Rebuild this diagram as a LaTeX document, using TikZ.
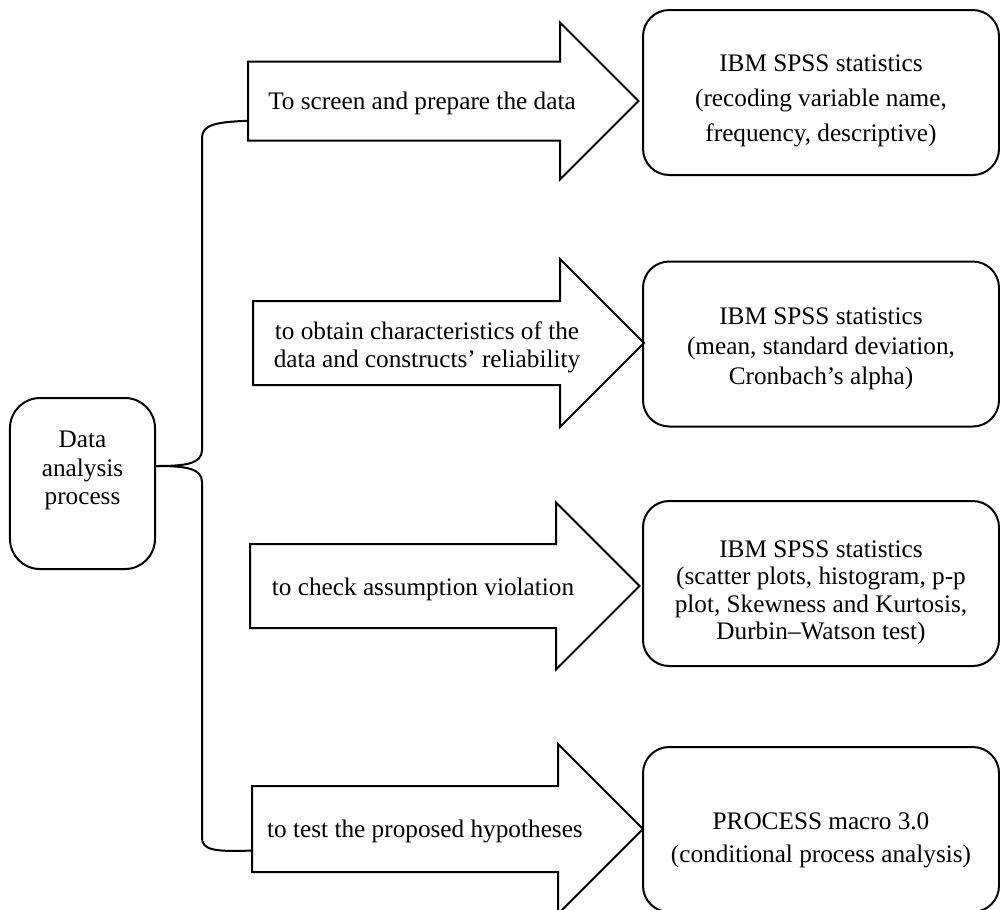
\documentclass[tikz,border=0pt]{standalone}
\usepackage{fontspec}
\setmainfont{Liberation Serif}
\tikzset{
	outbox/.style={draw, rounded corners=10.5pt, minimum width=142.4pt, minimum height=66pt, align=center, inner sep=2pt},
	inbox/.style={draw, rounded corners=12pt, minimum width=58pt, minimum height=68.4pt, align=center, inner sep=2pt},
	bigarrow/.style={draw, line join=miter},
}
\begin{document}
\begin{tikzpicture}[x=0.4pt, y=-0.4pt, line width=0.8pt, line join=round, font=\fontsize{10.1}{14}\selectfont]
	\clip (0,0) rectangle (1000,909); % the picture is cut at the bottom and on the right
	% block arrows: tail, end of body, centre, half body, half head
	\foreach \n/\xa/\xb/\yc/\bh/\hh in {1/248/560/101/39.5/78.5, 2/253/560/343/42/84, 3/250/556/586/42/83.5, 4/252/558/829/43/85}{
		\draw[bigarrow] (\xa,{\yc-\bh}) -- (\xb,{\yc-\bh}) -- (\xb,{\yc-\hh}) -- ({\xb+\hh},\yc) -- (\xb,{\yc+\hh}) -- (\xb,{\yc+\bh}) -- (\xa,{\yc+\bh}) -- cycle;
		\coordinate (tail\n) at (\xa,{\yc+\bh/2});
	}
	\node (screen) at (422,103) {To screen and prepare the data};
	\node[align=center, font=\fontsize{10.1}{11.2}\selectfont] (charac) at (427,347) {to obtain characteristics of the\\data and constructs’ reliability};
	\node (check) at (423,589) {to check assumption violation};
	\node (test) at (425,831) {to test the proposed hypotheses};
	% tools (the struts push the text a little down, as in the original)
	\node[outbox] (spss1) at (821,92.5) {\rule{0pt}{13.4pt}IBM SPSS statistics\\(recoding variable name,\\frequency, descriptive)};
	\node[outbox, font=\fontsize{10.1}{12}\selectfont] (spss2) at (821,344) {\rule{0pt}{10.2pt}IBM SPSS statistics\\(mean, standard deviation,\\Cronbach’s alpha)};
	\node[outbox, font=\fontsize{10.1}{11}\selectfont] (spss3) at (821,583.5) {\rule{0pt}{14.2pt}IBM SPSS statistics\\(scatter plots, histogram, p-p\\plot, Skewness and Kurtosis,\\Durbin–Watson test)};
	\node[outbox, font=\fontsize{10.1}{13.2}\selectfont] (macro) at (821,829.5) {\rule{0pt}{15pt}PROCESS macro 3.0\\(conditional process analysis)};
	% left box and brace
	\node[inbox, font=\fontsize{10.1}{11.4}\selectfont] (dap) at (82.5,483.5) {Data\\analysis\\process\rule[-12.6pt]{0pt}{0pt}};
	\coordinate (fork) at (dap.east |- 0,466);
	\draw (fork) .. controls (185,466) and (202,464) .. (202,450) -- (202,138) .. controls (202,125) and (215,122) .. (tail1);
	\draw (fork) .. controls (185,466) and (202,468) .. (202,482) -- (202,838) .. controls (202,850) and (215,852) .. (tail4);
\end{tikzpicture}
\end{document}
